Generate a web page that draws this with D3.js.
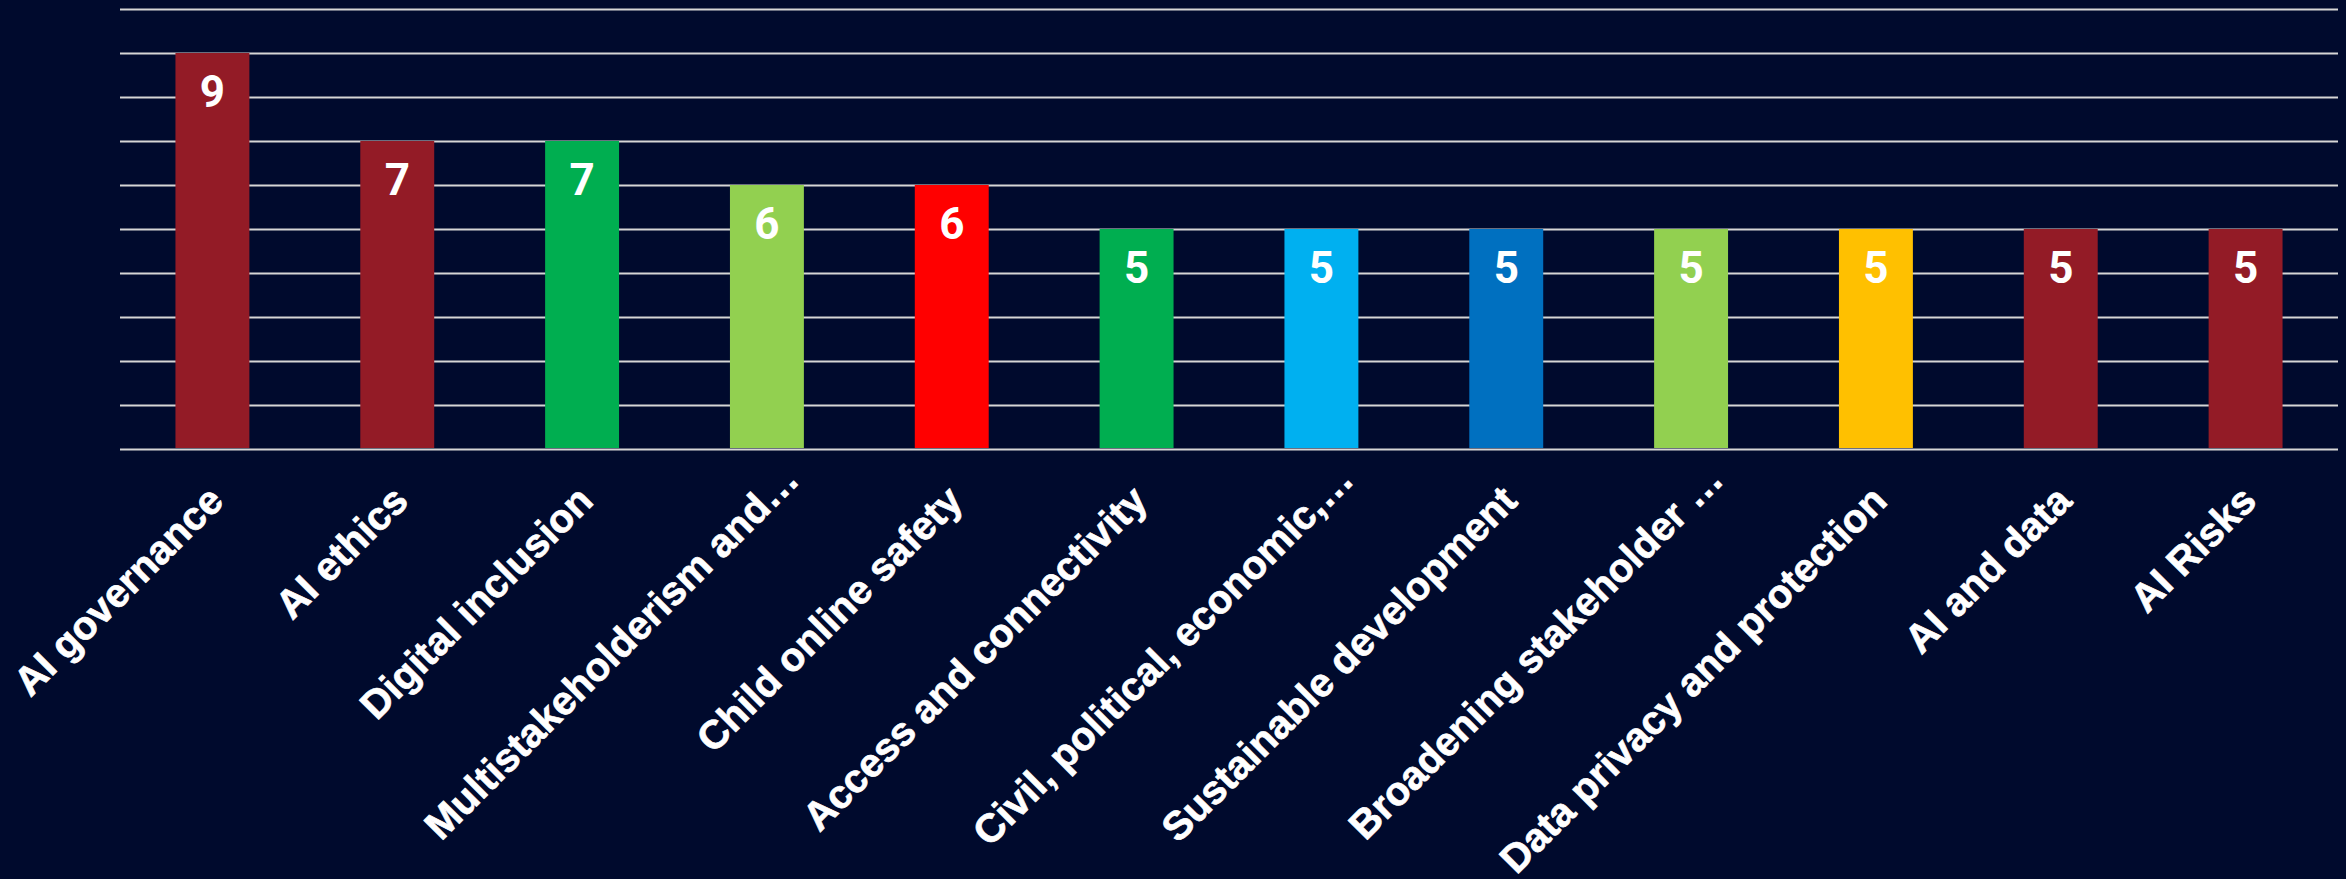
<!DOCTYPE html>
<html>
<head>
<meta charset="utf-8">
<script src="https://cdn.jsdelivr.net/npm/d3@7"></script>
<style>
  html, body { margin: 0; padding: 0; background: #000A2D; overflow: hidden; }
  svg { display: block; }
</style>
</head>
<body>
<svg id="chart" width="2346" height="879"></svg>
<script>
const categories = [
  "AI governance",
  "AI ethics",
  "Digital inclusion",
  "Multistakeholderism and\u2026",
  "Child online safety",
  "Access and connectivity",
  "Civil, political, economic,\u2026",
  "Sustainable development",
  "Broadening stakeholder \u2026",
  "Data privacy and protection",
  "AI and data",
  "AI Risks"
];
const values = [9, 7, 7, 6, 6, 5, 5, 5, 5, 5, 5, 5];
const barColors = ["#931B26", "#931B26", "#00AE50", "#92D050", "#FF0000", "#00AE50",
                   "#00B0F0", "#0070C0", "#92D050", "#FFC000", "#931B26", "#931B26"];
const gridTicks = [0, 1, 2, 3, 4, 5, 6, 7, 8, 9, 10];

const svg = d3.select("#chart");
const W = 2346, H = 879;
const margin = { left: 120, right: 8, top: 9, bottom: 430 };

svg.append("rect").attr("width", W).attr("height", H).attr("fill", "#000A2D");

const x = d3.scaleBand()
  .domain(categories)
  .range([margin.left, W - margin.right])
  .paddingInner(0.6)
  .paddingOuter(0.3);

const y = d3.scaleLinear()
  .domain([0, 10])
  .range([H - margin.bottom, margin.top]);

// gridlines
const grid = svg.append("g")
  .attr("transform", `translate(${margin.left},0)`)
  .call(d3.axisLeft(y).tickValues(gridTicks).tickSize(-(W - margin.right - margin.left)).tickFormat(""));
grid.select(".domain").remove();
grid.selectAll(".tick line").attr("stroke", "#D6D6D6").attr("stroke-width", 2);

// bars
const data = categories.map((c, i) => ({ c, v: values[i], col: barColors[i] }));
svg.append("g").selectAll("rect")
  .data(data)
  .join("rect")
  .attr("x", d => x(d.c))
  .attr("width", x.bandwidth())
  .attr("y", d => y(d.v))
  .attr("height", d => y(0) - y(d.v) - 1)
  .attr("fill", d => d.col);

// value labels
svg.append("g").selectAll("text")
  .data(data)
  .join("text")
  .attr("x", d => x(d.c) + x.bandwidth() / 2)
  .attr("y", d => y(d.v) + 54)
  .attr("text-anchor", "middle")
  .attr("fill", "#FFFFFF")
  .attr("font-family", "Roboto, 'Liberation Sans', sans-serif")
  .attr("font-weight", "bold")
  .attr("font-size", 44)
  .text(d => d.v);

// category labels (axis)
const xAxis = svg.append("g")
  .attr("transform", `translate(0,${y(0)})`)
  .call(d3.axisBottom(x).tickSize(0).tickPadding(0));
xAxis.select(".domain").remove();
xAxis.selectAll(".tick text")
  .attr("fill", "#FFFFFF")
  .attr("font-family", "'Liberation Sans', Arial, sans-serif")
  .attr("font-weight", "bold")
  .attr("font-size", 40)
  .attr("stroke", "#FFFFFF")
  .attr("stroke-width", 0.7)
  .attr("text-anchor", "end")
  .attr("dy", 0)
  .attr("y", 0)
  .attr("x", d => d.endsWith("\u2026") ? 30 : 0)
  .attr("transform", "translate(13,54) rotate(-45)");
</script>
</body>
</html>
